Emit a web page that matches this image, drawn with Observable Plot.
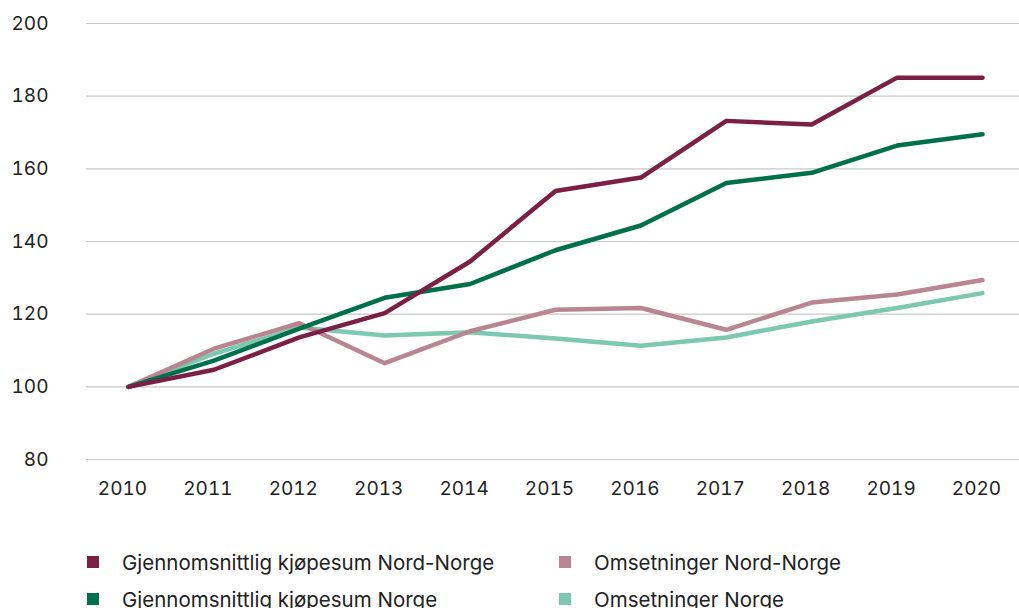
<!DOCTYPE html>
<html>
<head>
<meta charset="utf-8">
<script src="https://cdn.jsdelivr.net/npm/d3@7"></script>
<script src="https://cdn.jsdelivr.net/npm/@observablehq/plot@0.6"></script>
<style>
  html, body { margin: 0; padding: 0; background: #fff; }
  body { width: 1019px; height: 608px; overflow: hidden; font-family: Inter, "Noto Sans", sans-serif; }
  #legend { position: relative; height: 93px; }
  .item { position: absolute; display: flex; align-items: center; font-size: 20.5px; color: #222; white-space: nowrap; }
  .sw { width: 12px; height: 12px; margin-right: 23px; }
</style>
</head>
<body>
<div id="chart"></div>
<div id="legend"></div>
<script>
const years = [2010, 2011, 2012, 2013, 2014, 2015, 2016, 2017, 2018, 2019, 2020];
const seriesNames = [
  "Gjennomsnittlig kjøpesum Nord-Norge",
  "Gjennomsnittlig kjøpesum Norge",
  "Omsetninger Nord-Norge",
  "Omsetninger Norge"
];
const kjopesumNordNorge = [100, 104.7, 113.6, 120.3, 134.5, 153.9, 157.6, 173.2, 172.2, 185.1, 185.1];
const kjopesumNorge     = [100, 107.2, 116.0, 124.5, 128.3, 137.6, 144.4, 156.1, 158.9, 166.4, 169.5];
const omsetNordNorge    = [100, 110.5, 117.5, 106.5, 115.3, 121.2, 121.7, 115.7, 123.2, 125.4, 129.4];
const omsetNorge        = [100, 109.1, 116.3, 114.1, 115.0, 113.3, 111.3, 113.6, 118.0, 121.7, 125.8];
const colors = ["#7b1f45", "#00704a", "#b98592", "#7cc8b0"];
const yTicks = [80, 100, 120, 140, 160, 180, 200];

const allValues = [kjopesumNordNorge, kjopesumNorge, omsetNordNorge, omsetNorge];
const data = [];
allValues.forEach((vals, i) => vals.forEach((v, j) => data.push({series: seriesNames[i], year: years[j], value: v})));
// draw order: light lines underneath
const drawOrder = [3, 2, 1, 0];

const chart = Plot.plot({
  width: 1019,
  height: 515,
  marginLeft: 86,
  marginRight: 0,
  marginTop: 23,
  marginBottom: 56,
  style: {fontFamily: "Inter, 'Noto Sans', sans-serif", fontSize: "19px", color: "#222", background: "#fff"},
  x: {domain: [2010, 2020], insetLeft: 42, insetRight: 37},
  y: {domain: [80, 200]},
  color: {domain: seriesNames, range: colors},
  marks: [
    Plot.ruleY(yTicks, {stroke: "#c8c8c8", strokeWidth: 1.2}),
    Plot.axisY({ticks: yTicks, tickSize: 0, tickPadding: 38, tickFormat: d => String(d), fill: "#222", fontSize: 19, label: null}),
    Plot.axisX({ticks: years, tickSize: 0, tickPadding: 22, dx: -6, tickFormat: d => String(d), fill: "#222", fontSize: 19, label: null}),
    ...drawOrder.map(i => Plot.line(data.filter(d => d.series === seriesNames[i]), {
      x: "year", y: "value", stroke: colors[i], strokeWidth: 4.5, strokeLinejoin: "round", strokeLinecap: "round"
    }))
  ]
});
document.getElementById("chart").appendChild(chart);

const legend = document.getElementById("legend");
const pos = [
  {left: 87, top: 47},
  {left: 87, top: 84},
  {left: 559, top: 47},
  {left: 559, top: 84}
];
seriesNames.forEach((name, i) => {
  const el = document.createElement("div");
  el.className = "item";
  el.style.left = pos[i].left + "px";
  el.style.top = (pos[i].top - 13) + "px";
  el.style.height = "26px";
  const sw = document.createElement("div");
  sw.className = "sw";
  sw.style.background = colors[i];
  const tx = document.createElement("span");
  tx.textContent = name;
  el.appendChild(sw);
  el.appendChild(tx);
  legend.appendChild(el);
});
</script>
</body>
</html>
